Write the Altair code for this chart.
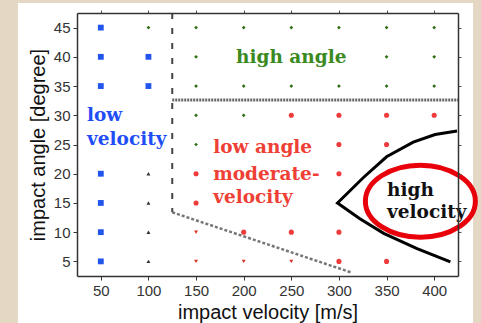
import altair as alt
import pandas as pd

# ---- data ----
x_ticks = [50, 100, 150, 200, 250, 300, 350, 400]
y_ticks = [5, 10, 15, 20, 25, 30, 35, 40, 45]

blue_v = [50, 50, 50, 50, 50, 50, 50, 100, 100]
blue_a = [5, 10, 15, 20, 35, 40, 45, 35, 40]

green_v = [100, 150, 200, 250, 300, 350, 400, 150, 350, 400, 150, 200, 250, 300, 350, 400, 150, 200, 150]
green_a = [45, 45, 45, 45, 45, 45, 45, 40, 40, 40, 35, 35, 35, 35, 35, 35, 30, 30, 25]

redc_v = [250, 300, 350, 400, 300, 350, 150, 300, 150, 200, 250, 300, 300, 350]
redc_a = [30, 30, 30, 30, 25, 25, 20, 20, 15, 10, 10, 10, 5, 5]

redt_v = [150, 150, 200, 250]
redt_a = [10, 5, 5, 5]

blackt_v = [100, 100, 100, 100]
blackt_a = [5, 10, 15, 20]

vline_v = [125, 125]
vline_a = [47.5, 13.4]
hline_v = [125, 425]
hline_a = [32.6, 32.6]
diag_v = [125, 313]
diag_a = [13.4, 3.1]

curve_v = [424, 401, 378, 350, 326, 298.5, 322, 347, 382, 417]
curve_a = [27.3, 26.7, 25.4, 22.9, 19.4, 15.0, 12.3, 9.8, 7.2, 4.9]

label_text = ["low", "velocity", "high angle", "low angle", "moderate-", "velocity", "high", "velocity"]
label_v = [35.5, 35.5, 192, 168, 168, 168, 350.5, 350.5]
label_a = [30.0, 26.0, 39.9, 24.5, 20.0, 16.0, 17.2, 13.4]
label_c = ["#1f4ef5", "#1f4ef5", "#3b8a1f", "#ee4035", "#ee4035", "#ee4035", "#111111", "#111111"]

ellipse_v = [385.5]
ellipse_a = [15.3]

# ---- scales / axes ----
xs = alt.Scale(domain=[25, 425], nice=False, zero=False)
ys = alt.Scale(domain=[2.5, 47.5], nice=False, zero=False)

ax_common = dict(grid=False, domain=True, domainColor="#333333", domainWidth=1.5, zindex=1,
                 tickColor="#333333", tickWidth=1, tickSize=4,
                 labelFont="Liberation Sans", labelFontSize=15, labelColor="#333333",
                 titleFont="Liberation Sans", titleFontSize=20, titleFontWeight="normal",
                 titleColor="#111111", labelPadding=3)

x_main = alt.Axis(values=x_ticks, orient="bottom", title="impact velocity [m/s]", titlePadding=4, **ax_common)
y_main = alt.Axis(values=y_ticks, orient="left", title="impact angle [degree]", titlePadding=5, **ax_common)
x_top = alt.Axis(values=x_ticks, orient="top", labels=False, title="", grid=False, domain=True,
                 domainColor="#333333", domainWidth=1.5, zindex=1, tickColor="#555555", tickSize=3)
y_right = alt.Axis(values=y_ticks, orient="right", labels=False, title="", grid=False, domain=True,
                   domainColor="#333333", domainWidth=1.5, zindex=1, tickColor="#555555", tickSize=3)


def X(axis=None):
    if axis is None:
        return alt.X("v:Q", scale=xs, axis=None)
    return alt.X("v:Q", scale=xs, axis=axis)


def Y(axis=None):
    if axis is None:
        return alt.Y("a:Q", scale=ys, axis=None)
    return alt.Y("a:Q", scale=ys, axis=axis)


def df(v, a, **extra):
    d = pd.DataFrame({"v": v, "a": a})
    for k, val in extra.items():
        d[k] = val
    return d


# white paper behind the figure (decoration)
bg = alt.Chart(pd.DataFrame({"k": [0]})).mark_rect(color="white").encode(
    x=alt.value(-59), x2=alt.value(396), y=alt.value(-10), y2=alt.value(312)
)

vline = alt.Chart(df(vline_v, vline_a, o=[0, 1])).mark_line(
    color="#444444", strokeWidth=2, strokeDash=[6, 9]
).encode(x=X(), y=Y(), order="o:Q")

hline = alt.Chart(df(hline_v, hline_a, o=[0, 1])).mark_line(
    color="#666666", strokeWidth=3, strokeDash=[2, 1]
).encode(x=X(), y=Y(), order="o:Q")

diag = alt.Chart(df(diag_v, diag_a, o=[0, 1])).mark_line(
    color="#777777", strokeWidth=2.5, strokeDash=[3, 2]
).encode(x=X(), y=Y(), order="o:Q")

curve = alt.Chart(df(curve_v, curve_a, o=list(range(len(curve_v))))).mark_line(
    color="#000000", strokeWidth=3
).encode(x=X(), y=Y(), order="o:Q")

blue = alt.Chart(df(blue_v, blue_a)).mark_point(
    shape="square", filled=True, size=34, color="#2255ee", opacity=1
).encode(x=X(x_main), y=Y(y_main))

green = alt.Chart(df(green_v, green_a)).mark_point(
    shape="diamond", filled=True, size=14, color="#2d6e12", opacity=1
).encode(x=X(x_top), y=Y(y_right))

redc = alt.Chart(df(redc_v, redc_a)).mark_point(
    shape="circle", filled=True, size=26, color="#ee3b3b", opacity=1
).encode(x=X(), y=Y())

redt = alt.Chart(df(redt_v, redt_a)).mark_point(
    shape="triangle-down", filled=True, size=16, color="#dd3322", opacity=1
).encode(x=X(), y=Y())

blackt = alt.Chart(df(blackt_v, blackt_a)).mark_point(
    shape="triangle-up", filled=True, size=16, color="#333333", opacity=1
).encode(x=X(), y=Y())

texts = alt.Chart(df(label_v, label_a, t=label_text, c=label_c)).mark_text(
    align="left", baseline="middle", font="DejaVu Serif", fontWeight="bold", fontSize=18.5
).encode(x=X(), y=Y(), text="t:N", color=alt.Color("c:N", scale=None))

ellipse = alt.Chart(df(ellipse_v, ellipse_a)).mark_point(
    shape="M -1 0 A 1 0.655 0 1 1 1 0 A 1 0.655 0 1 1 -1 0 Z",
    filled=False, size=12100, strokeWidth=5, color="#e8000b", opacity=1
).encode(x=X(), y=Y())

chart = alt.layer(
    bg, vline, hline, diag, curve, blue, green, redc, redt, blackt, texts, ellipse
).resolve_axis(x="independent", y="independent").properties(
    width=381, height=263,
    autosize=alt.AutoSizeParams(type="none"),
    padding={"left": 77, "top": 13, "right": 23, "bottom": 47},
    background="#e4d8c5",
).configure_view(stroke=None)

chart.save("out.html", embed_options={"renderer": "svg", "actions": False})
